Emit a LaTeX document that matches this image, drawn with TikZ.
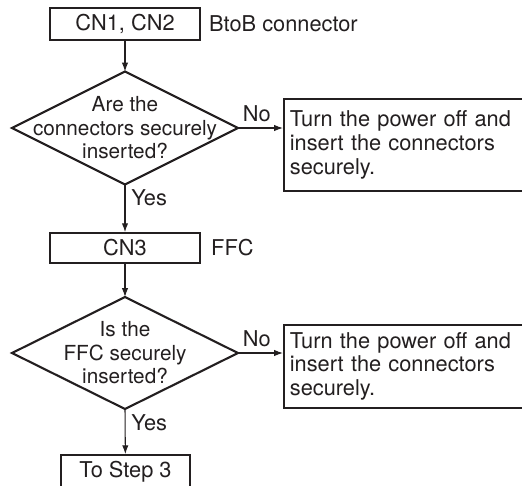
\documentclass[tikz,border=0pt]{standalone}
\usepackage{fontspec}
\setsansfont{TeX Gyre Heros}
\usetikzlibrary{shapes.geometric, positioning, arrows.meta, shadows}
\definecolor{inkDark}{RGB}{35, 31, 32}

\begin{document}
\begin{tikzpicture}[x=0.02cm, y=-0.02cm, font=\sffamily\fontsize{12.4}{13.4}\selectfont, color=inkDark,
    stepbox/.style={draw=inkDark, fill=white, line width=1pt, inner sep=0pt,
      drop shadow={shadow xshift=0.8pt, shadow yshift=-0.8pt, opacity=1, fill=inkDark}},
    fixbox/.style={stepbox, text width=5cm, align=left, inner xsep=0.12cm},
    decision/.style={diamond, draw=inkDark, line width=1.2pt, inner sep=0pt, outer sep=0pt,
      minimum width=4.52cm},
    asktext/.style={align=center, font=\sffamily\fontsize{11.8}{13.4}\selectfont},
    flow/.style={draw=inkDark, line width=0.6pt, -{Latex[length=5pt, width=3.6pt]}}]
        \useasboundingbox (0,0) rectangle (522,485);

        % Connectors CN1, CN2
        \node[stepbox, minimum width=3cm, minimum height=0.64cm] (cn12) at (125,24) {CN1, CN2};
        \node[anchor=west] (btob) at (203,24) {BtoB connector};

        % First check
        \node[decision, minimum height=2.26cm] (q1) at (125,128) {};
        \node[asktext] (q1txt) at (125,128) {Are the\\connectors securely\\inserted?};
        \node[fixbox, minimum height=1.84cm, anchor=north west] (fix1) at (283,98)
          {Turn the power off and\\insert the connectors\\securely.};

        % Connector CN3
        \node[stepbox, minimum width=3cm, minimum height=0.6cm] (cn3) at (125,248) {CN3};
        \node[anchor=west] (ffc) at (205,248) {FFC};

        % Second check
        \node[decision, minimum height=2.24cm] (q2) at (125,353) {};
        \node[asktext] (q2txt) at (125,353) {Is the\\FFC securely\\inserted?};
        \node[fixbox, minimum height=1.66cm, anchor=north west] (fix2) at (283,324)
          {Turn the power off and\\insert the connectors\\securely.};

        % Next step
        \node[stepbox, minimum width=2.58cm, minimum height=0.68cm] (step3) at (125.5,472) {To Step 3};

        % Flow
        \draw[flow] (cn12) -- (q1);
        \draw[flow] (q1.east) -- node[above, pos=0.42] (no1) {No} (fix1.west |- q1.east);
        \draw[flow] (q1.south) -- node[right, pos=0.28] (yes1) {Yes} (cn3);
        \draw[flow] (cn3) -- (q2);
        \draw[flow] (q2.east) -- node[above, pos=0.42] (no2) {No} (fix2.west |- q2.east);
        \draw[flow] (q2.south) -- node[right, pos=0.3] (yes2) {Yes} (step3);
    \end{tikzpicture}
\end{document}
